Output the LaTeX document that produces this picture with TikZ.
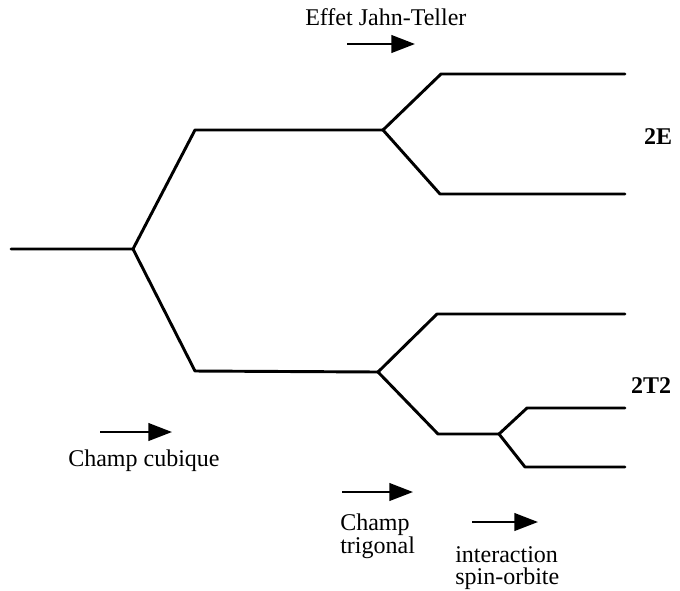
\documentclass[tikz,border=0pt]{standalone}
\usepackage{fontspec}
\setmainfont{Liberation Serif}
\usetikzlibrary{arrows.meta,positioning}
\tikzset{
  levelln/.style={line width=2.2pt, line cap=round, line join=round},
  fieldarr/.style={-{Triangle[length=6.2mm,width=4.6mm]}, line width=1.8pt},
  lbl/.style={font=\fontsize{18}{17}\selectfont, align=left, inner sep=0pt},
  termlbl/.style={font=\fontsize{18}{20}\selectfont\bfseries, inner sep=0pt},
}

\begin{document}
\begin{tikzpicture}[x=0.75pt, y=-0.75pt]
      \useasboundingbox (0,0) rectangle (680,590);
      % free ion level and cubic field splitting
      \coordinate (free) at (11,249);
      \coordinate (cub) at (133,249);
      \coordinate (eL) at (195,130);
      \coordinate (eR) at (383,130);
      \coordinate (tL) at (195,371);
      \coordinate (tR) at (378,372);
      \draw[levelln] (free) -- (cub) -- (eL) -- (eR);
      \draw[levelln] (cub) -- (tL) -- (tR);
      % Jahn-Teller splitting of 2E
      \coordinate (e1L) at (441,74);
      \coordinate (e1R) at (625,74);
      \coordinate (e2L) at (440,194);
      \coordinate (e2R) at (625,194);
      \draw[levelln] (eR) -- (e1L) -- (e1R);
      \draw[levelln] (eR) -- (e2L) -- (e2R);
      % trigonal field splitting of 2T2
      \coordinate (t1L) at (437,314);
      \coordinate (t1R) at (625,314);
      \coordinate (t2L) at (438,434);
      \coordinate (so) at (499,434);
      \draw[levelln] (tR) -- (t1L) -- (t1R);
      \draw[levelln] (tR) -- (t2L) -- (so);
      % spin-orbit splitting
      \coordinate (s1L) at (527,408);
      \coordinate (s1R) at (625,408);
      \coordinate (s2L) at (525,467);
      \coordinate (s2R) at (625,467);
      \draw[levelln] (so) -- (s1L) -- (s1R);
      \draw[levelln] (so) -- (s2L) -- (s2R);
      % terms
      \node[termlbl] (termE) at (658,137) {2E};
      \node[termlbl] (termT) at (651,386) {2T2};
      % perturbations
      \node[lbl, anchor=base west] (jt) at (305,25) {Effet Jahn-Teller};
      \coordinate (jtA) at (347,44);
      \coordinate (jtB) at (415,44);
      \draw[fieldarr] (jtA) -- (jtB);
      \coordinate (cubA) at (100,432);
      \coordinate (cubB) at (172,432);
      \draw[fieldarr] (cubA) -- (cubB);
      \node[lbl, anchor=base west] (cubtxt) at (68,466) {Champ cubique};
      \coordinate (trgA) at (342,492);
      \coordinate (trgB) at (413,492);
      \draw[fieldarr] (trgA) -- (trgB);
      \node[lbl, anchor=north west] (trgtxt) at (340,514) {Champ\\trigonal};
      \coordinate (soA) at (472,522);
      \coordinate (soB) at (538,522);
      \draw[fieldarr] (soA) -- (soB);
      \node[lbl, anchor=north west] (sotxt) at (455,546) {interaction\\spin-orbite};
    \end{tikzpicture}
\end{document}
